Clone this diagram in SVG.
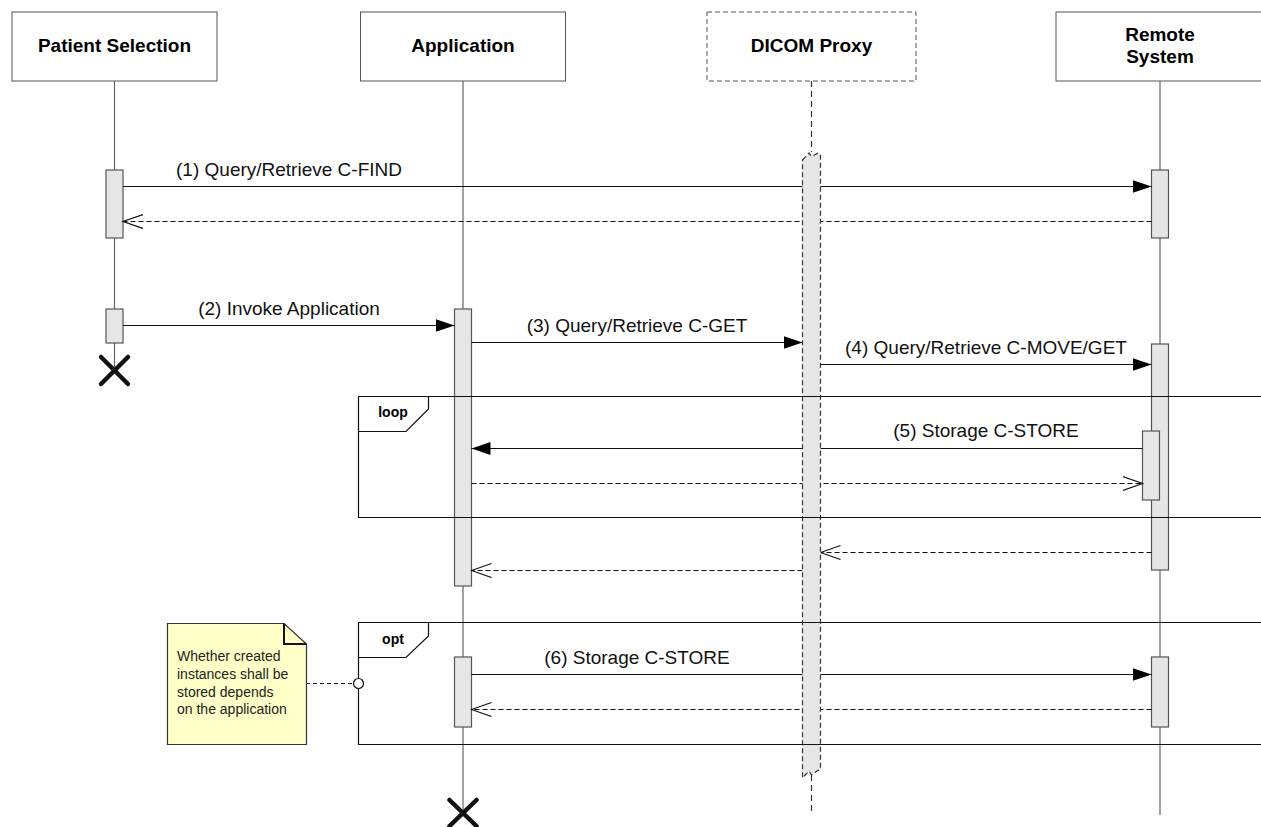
<svg xmlns="http://www.w3.org/2000/svg" width="1261" height="827" viewBox="0 0 1261 827">
<style>
.hdr{fill:#fff;stroke:#555;stroke-width:1}
.hdrd{fill:#fff;stroke:#555;stroke-width:1;stroke-dasharray:5,3}
.ht{font-family:"Liberation Sans",Arial,sans-serif;font-size:19px;font-weight:bold;fill:#000;text-anchor:middle}
.mt{font-family:"Liberation Sans",Arial,sans-serif;font-size:19px;fill:#111;text-anchor:middle}
.tag{font-family:"Liberation Sans",Arial,sans-serif;font-size:14px;font-weight:bold;fill:#000;text-anchor:middle}
.nt{font-family:"Liberation Sans",Arial,sans-serif;font-size:14px;fill:#222}
.life{stroke:#666;stroke-width:1.2;fill:none}
.lifed{stroke:#333;stroke-width:1.2;fill:none;stroke-dasharray:6,4}
.act{fill:#e6e6e6;stroke:#555;stroke-width:1.2}
.msg{stroke:#111;stroke-width:1.2;fill:none}
.call{marker-end:url(#fa)}
.ret{stroke-dasharray:5,3;marker-end:url(#oa)}
.frame{fill:none;stroke:#111;stroke-width:1.2}
.x{stroke:#111;stroke-width:4.5;stroke-linecap:round}
</style>
<defs>
<marker id="fa" markerUnits="userSpaceOnUse" markerWidth="20" markerHeight="14" refX="19" refY="6.5" orient="auto">
<path d="M0,0 L19,6.5 L0,13 z" fill="#000"/>
</marker>
<marker id="oa" markerUnits="userSpaceOnUse" markerWidth="22" markerHeight="16" refX="20" refY="7.5" orient="auto">
<path d="M0,0.5 L20,7.5 L0,14.5" fill="none" stroke="#111" stroke-width="1.2"/>
</marker>
</defs>
<rect width="1261" height="827" fill="#fff"/>

<g id="lifelines">
<line class="life" x1="114.5" y1="81" x2="114.5" y2="370"/>
<line class="life" x1="463" y1="81" x2="463" y2="813"/>
<line class="lifed" x1="811.5" y1="81" x2="811.5" y2="152"/>
<line class="lifed" x1="811.5" y1="775" x2="811.5" y2="815"/>
<line class="life" x1="1160" y1="81" x2="1160" y2="815"/>
</g>

<g id="node-patient">
<rect class="hdr" x="12" y="12" width="205" height="69"/>
<text class="ht" x="114.5" y="52">Patient Selection</text>
</g>
<g id="node-application">
<rect class="hdr" x="360.5" y="12" width="205" height="69"/>
<text class="ht" x="463" y="52">Application</text>
</g>
<g id="node-proxy">
<rect class="hdrd" x="707" y="12" width="209" height="69"/>
<text class="ht" x="811.5" y="52">DICOM Proxy</text>
</g>
<g id="node-remote">
<rect class="hdr" x="1056" y="12" width="210" height="69"/>
<text class="ht" x="1160" y="41">Remote</text>
<text class="ht" x="1160" y="63">System</text>
</g>

<g id="activations">
<rect class="act" x="106" y="170" width="17" height="68"/>
<rect class="act" x="1151.5" y="170" width="17" height="68"/>
<rect class="act" x="106" y="309" width="17" height="34"/>
<rect class="act" x="454.5" y="309" width="17" height="277"/>
<rect class="act" x="1151.5" y="344" width="17" height="226"/>
<rect class="act" x="1142.5" y="431" width="17" height="69"/>
<rect class="act" x="454.5" y="657" width="17" height="70"/>
<rect class="act" x="1151.5" y="657" width="17" height="70"/>
</g>

<g id="connectors">
<line class="msg call" x1="123" y1="186.5" x2="1151.5" y2="186.5"/>
<text class="mt" x="289" y="176">(1) Query/Retrieve C-FIND</text>
<line class="msg ret" x1="1151.5" y1="221.5" x2="123" y2="221.5"/>
<line class="msg call" x1="123" y1="325.5" x2="454.5" y2="325.5"/>
<text class="mt" x="289" y="315">(2) Invoke Application</text>
<line class="msg call" x1="471.5" y1="342.5" x2="802.5" y2="342.5"/>
<text class="mt" x="637" y="332">(3) Query/Retrieve C-GET</text>
<line class="msg call" x1="820.5" y1="364.5" x2="1151.5" y2="364.5"/>
<text class="mt" x="986" y="354">(4) Query/Retrieve C-MOVE/GET</text>
<line class="msg call" x1="1142.5" y1="448.5" x2="471.5" y2="448.5"/>
<text class="mt" x="986" y="437">(5) Storage C-STORE</text>
<line class="msg ret" x1="471.5" y1="483.5" x2="1142.5" y2="483.5"/>
<line class="msg ret" x1="1151.5" y1="552.5" x2="820.5" y2="552.5"/>
<line class="msg ret" x1="802.5" y1="570.5" x2="471.5" y2="570.5"/>
<line class="msg call" x1="471.5" y1="674.5" x2="1151.5" y2="674.5"/>
<text class="mt" x="637" y="664">(6) Storage C-STORE</text>
<line class="msg ret" x1="1151.5" y1="709.5" x2="471.5" y2="709.5"/>
<line stroke="#111" stroke-width="1.2" stroke-dasharray="4,3" x1="306" y1="683.5" x2="353" y2="683.5"/>
</g>

<g id="proxy-activation">
<path d="M802.5,160 L809,153 L811.5,156.5 L818,153 L820.5,155.5 L820.5,769 L817,771 L811.5,775 L809,771 L802.5,778 Z" fill="#e6e6e6" stroke="#333" stroke-width="1.2" stroke-dasharray="5,3"/>
</g>

<g id="frame-loop">
<path class="frame" d="M1265,396.5 L358.5,396.5 L358.5,517.5 L1265,517.5"/>
<path class="frame" d="M358.5,396.5 L428.5,396.5 L428.5,409 L406,431.5 L358.5,431.5"/>
<text class="tag" x="393" y="417">loop</text>
</g>

<g id="frame-opt">
<path class="frame" d="M1265,622.5 L358.5,622.5 L358.5,744.5 L1265,744.5"/>
<path class="frame" d="M358.5,622.5 L428.5,622.5 L428.5,636 L406,657.5 L358.5,657.5"/>
<text class="tag" x="393" y="644">opt</text>
<circle cx="358.5" cy="683.5" r="5" fill="#fff" stroke="#111" stroke-width="1.2"/>
</g>

<g id="destroy-patient">
<line class="x" x1="101" y1="357" x2="128" y2="384"/>
<line class="x" x1="128" y1="357" x2="101" y2="384"/>
</g>
<g id="destroy-application">
<line class="x" x1="449.5" y1="800" x2="476.5" y2="826"/>
<line class="x" x1="476.5" y1="800" x2="449.5" y2="826"/>
</g>

<g id="note">
<path d="M167.5,623.5 L284,623.5 L306.5,644 L306.5,744.5 L167.5,744.5 Z" fill="#ffffc8" stroke="#333" stroke-width="1.2"/>
<path d="M284,623.5 L284,644 L306.5,644" fill="none" stroke="#111" stroke-width="2"/>
<text class="nt" x="177" y="661">Whether created</text>
<text class="nt" x="177" y="679">instances shall be</text>
<text class="nt" x="177" y="697">stored depends</text>
<text class="nt" x="177" y="714">on the application</text>
</g>
</svg>
